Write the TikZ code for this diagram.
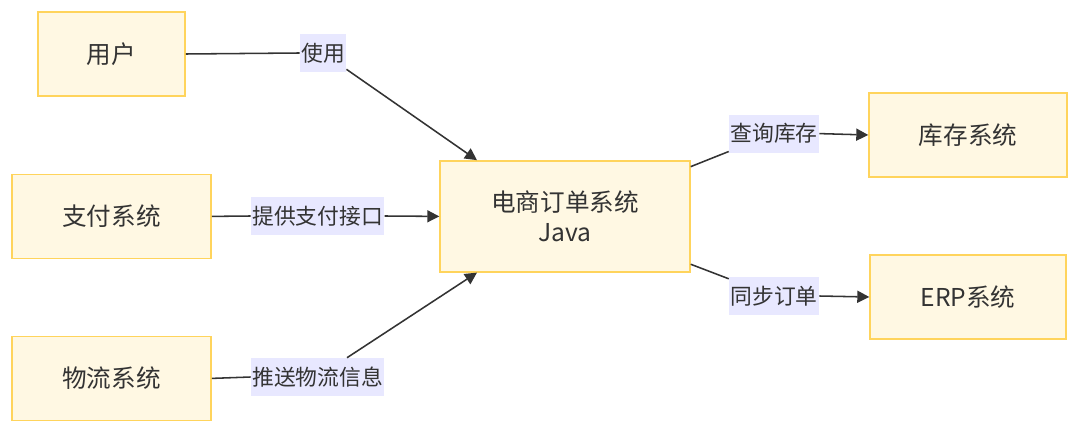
\documentclass[tikz,border=0pt]{standalone}
\usepackage{fontspec}
\setmainfont{Noto Sans CJK SC}
\usetikzlibrary{arrows.meta,positioning}
\definecolor{boxFill}{HTML}{FFF8E3}
\definecolor{boxBorder}{HTML}{FFD45C}
\definecolor{lblFill}{HTML}{E8E8FF}
\definecolor{lineDark}{HTML}{333333}
\tikzset{
  box/.style={draw=boxBorder, fill=boxFill, line width=1pt, minimum height=2.1cm,
    align=center, font=\fontsize{17.5}{21}\selectfont, text=lineDark},
  lbl/.style={fill=lblFill, minimum height=0.95cm, inner xsep=1pt,
    font=\fontsize{15.5}{18}\selectfont, text=lineDark},
  conn/.style={draw=lineDark, line width=1.1pt},
  arr/.style={conn, -{Triangle[length=3mm,width=3mm]}}
}
\begin{document}
\begin{tikzpicture}
  \useasboundingbox (0,0) rectangle (27,10.85);
  % systems
  \node[box, minimum width=3.675cm] (user) at (2.79,9.50) {用户};
  \node[box, minimum width=4.975cm] (pay) at (2.79,5.44) {支付系统};
  \node[box, minimum width=4.975cm] (logistics) at (2.79,1.39) {物流系统};
  \node[box, minimum width=6.25cm, minimum height=2.775cm] (order) at (14.125,5.44) {电商订单系统\\Java};
  \node[box, minimum width=4.95cm] (stock) at (24.2,7.475) {库存系统};
  \node[box, minimum width=4.9cm] (erp) at (24.2,3.425) {ERP系统};
  % edge labels
  \node[lbl] (lblUse) at (8.075,9.525) {使用};
  \node[lbl] (lblPay) at (7.94,5.45) {提供支付接口};
  \node[lbl] (lblLog) at (7.94,1.425) {推送物流信息};
  \node[lbl] (lblStock) at (19.35,7.51) {查询库存};
  \node[lbl] (lblErp) at (19.35,3.45) {同步订单};
  % connectors
  \draw[conn] (user.east) -- (lblUse.west);
  \draw[arr] (lblUse) -- ([xshift=-2.2cm]order.north);
  \draw[conn] (pay.east) -- (lblPay.west);
  \draw[arr] (lblPay.east) -- (order.west);
  \draw[conn] (logistics.east) -- (lblLog.west);
  \draw[arr] (lblLog) -- ([xshift=-2.2cm]order.south);
  \draw[conn] (order) -- (lblStock);
  \draw[arr] (lblStock.east) -- (stock.west);
  \draw[conn] (order) -- (lblErp);
  \draw[arr] (lblErp.east) -- (erp.west);
\end{tikzpicture}
\end{document}
